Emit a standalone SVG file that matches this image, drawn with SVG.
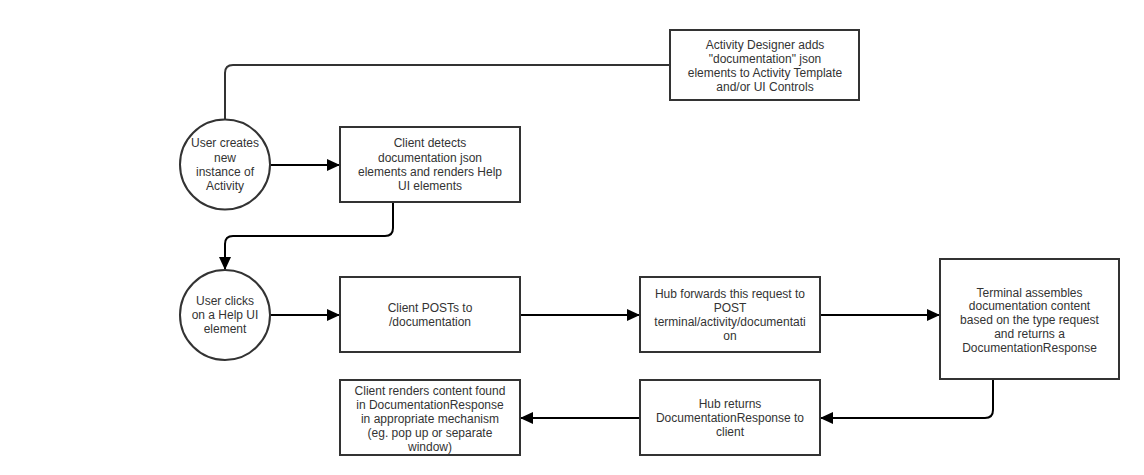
<svg xmlns="http://www.w3.org/2000/svg" width="1144" height="475" viewBox="0 0 1144 475">
<style>
.box{fill:#fff;stroke:#333;stroke-width:2}
.t{font-family:"Liberation Sans",Arial,sans-serif;font-size:12px;fill:#333;text-anchor:middle}
.c{fill:none;stroke:#000;stroke-width:2}
</style>
<defs>
<marker id="arr" markerUnits="userSpaceOnUse" markerWidth="14" markerHeight="14" refX="13" refY="7" orient="auto">
<path d="M0,1 L13,7 L0,13 z" fill="#000"/>
</marker>
</defs>
<rect width="1144" height="475" fill="#fff"/>
<g id="connectors">
<path class="c" style="stroke:#333" d="M225,119 V73 Q225,65 233,65 H670"/>
<path class="c" d="M270,165 H340" marker-end="url(#arr)"/>
<path class="c" d="M393,202 V228 Q393,236 385,236 H233 Q225,236 225,244 V270" marker-end="url(#arr)"/>
<path class="c" d="M270,315 H340" marker-end="url(#arr)"/>
<path class="c" d="M520,315 H640" marker-end="url(#arr)"/>
<path class="c" d="M820,315 H940" marker-end="url(#arr)"/>
<path class="c" d="M993,379 V410 Q993,418 985,418 H820" marker-end="url(#arr)"/>
<path class="c" d="M640,418 H520" marker-end="url(#arr)"/>
</g>
<g id="designer">
<rect class="box" x="670" y="30" width="189" height="70"/>
<text class="t"><tspan x="765" y="49">Activity Designer adds</tspan><tspan x="765" y="63">"documentation" json</tspan><tspan x="765" y="77">elements to Activity Template</tspan><tspan x="765" y="91">and/or UI Controls</tspan></text>
</g>
<g id="user-creates">
<circle class="box" cx="225" cy="164.5" r="45"/>
<text class="t"><tspan x="225" y="147">User creates</tspan><tspan x="225" y="162">new</tspan><tspan x="225" y="176">instance of</tspan><tspan x="225" y="190">Activity</tspan></text>
</g>
<g id="client-detects">
<rect class="box" x="340" y="127" width="180" height="75"/>
<text class="t"><tspan x="430" y="147">Client detects</tspan><tspan x="430" y="162">documentation json</tspan><tspan x="430" y="176">elements and renders Help</tspan><tspan x="430" y="190">UI elements</tspan></text>
</g>
<g id="user-clicks">
<circle class="box" cx="225" cy="315" r="45"/>
<text class="t"><tspan x="225" y="305">User clicks</tspan><tspan x="225" y="319">on a Help UI</tspan><tspan x="225" y="333">element</tspan></text>
</g>
<g id="client-posts">
<rect class="box" x="340" y="277" width="180" height="75"/>
<text class="t"><tspan x="430" y="312">Client POSTs to</tspan><tspan x="430" y="326">/documentation</tspan></text>
</g>
<g id="hub-forwards">
<rect class="box" x="640" y="277" width="180" height="75"/>
<text class="t"><tspan x="730" y="298">Hub forwards this request to</tspan><tspan x="730" y="312">POST</tspan><tspan x="730" y="326">terminal/activity/documentati</tspan><tspan x="730" y="340">on</tspan></text>
</g>
<g id="terminal">
<rect class="box" x="940" y="259" width="179" height="120"/>
<text class="t"><tspan x="1029.5" y="297">Terminal assembles</tspan><tspan x="1029.5" y="310">documentation content</tspan><tspan x="1029.5" y="324">based on the type request</tspan><tspan x="1029.5" y="338">and returns a</tspan><tspan x="1029.5" y="352">DocumentationResponse</tspan></text>
</g>
<g id="hub-returns">
<rect class="box" x="640" y="380" width="180" height="75"/>
<text class="t"><tspan x="730" y="408">Hub returns</tspan><tspan x="730" y="422">DocumentationResponse to</tspan><tspan x="730" y="436">client</tspan></text>
</g>
<g id="client-renders">
<rect class="box" x="340" y="380" width="180" height="75"/>
<text class="t"><tspan x="430" y="395">Client renders content found</tspan><tspan x="430" y="409">in DocumentationResponse</tspan><tspan x="430" y="423">in appropriate mechanism</tspan><tspan x="430" y="437">(eg. pop up or separate</tspan><tspan x="430" y="451">window)</tspan></text>
</g>
</svg>
